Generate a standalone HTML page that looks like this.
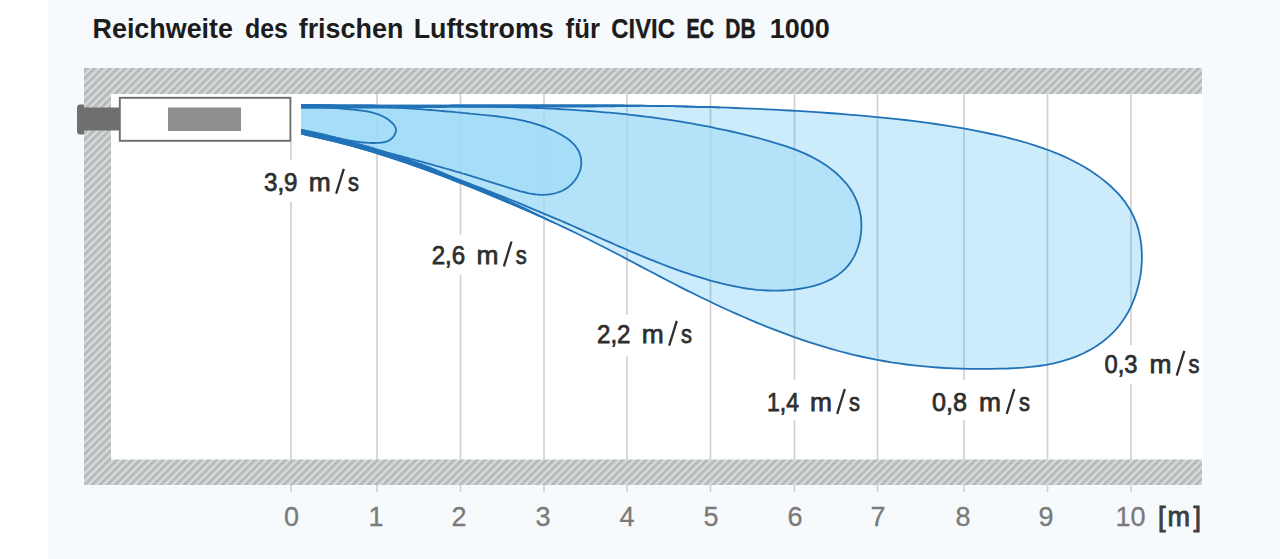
<!DOCTYPE html>
<html><head><meta charset="utf-8">
<style>
html,body{margin:0;padding:0;background:#fff;}
body{width:1280px;height:559px;overflow:hidden;font-family:"Liberation Sans",sans-serif;}
svg{display:block;}
text{font-family:"Liberation Sans",sans-serif;}
</style></head><body>
<svg width="1280" height="559" viewBox="0 0 1280 559">
<defs>
<pattern id="hatch" width="5.42" height="5.42" patternUnits="userSpaceOnUse" patternTransform="rotate(-45)">
<rect width="5.42" height="5.42" fill="#d8dbdb"/>
<rect width="5.42" height="3" fill="#b7baba"/>
</pattern>
</defs>
<rect x="0" y="0" width="1280" height="559" fill="#ffffff"/>
<rect x="48" y="0" width="1232" height="559" fill="#f6fafd"/>
<rect x="100" y="80" width="1103" height="390" fill="#ffffff"/>
<path d="M291 141V492M377 94V492M460.5 94V492M544 94V492M627 94V492M710.5 94V492M794.5 94V492M877.5 94V492M964 94V492M1047.5 94V492M1131 94V492" stroke="#d0d0d0" stroke-width="1.6" fill="none"/>
<g stroke="none">
<path fill="rgb(0,160,235)" fill-opacity="0.2" d="M301.0 105.0L308.8 104.9L316.5 105.0L324.2 105.1L332.0 105.2L339.7 105.3L347.4 105.4L355.2 105.4L362.9 105.5L370.6 105.5L378.4 105.6L386.1 105.6L393.8 105.6L401.6 105.6L409.3 105.6L417.1 105.6L424.8 105.6L432.6 105.6L440.4 105.6L448.1 105.6L455.9 105.5L463.6 105.5L471.4 105.5L479.1 105.5L486.9 105.4L494.7 105.4L502.4 105.4L510.2 105.4L518.0 105.3L525.7 105.3L533.5 105.3L541.3 105.3L549.0 105.3L556.8 105.3L564.6 105.3L572.3 105.3L580.1 105.3L587.9 105.3L595.6 105.4L603.4 105.4L611.2 105.4L618.9 105.5L626.7 105.6L634.5 105.6L642.2 105.7L650.0 105.8L657.8 106.0L665.5 106.1L673.3 106.2L681.0 106.4L688.8 106.6L696.5 106.8L704.3 107.0L712.0 107.2L719.8 107.4L727.5 107.7L735.3 108.0L743.0 108.3L750.8 108.6L758.5 108.9L766.2 109.3L774.0 109.6L781.7 110.1L789.4 110.5L797.2 110.9L804.9 111.4L812.6 111.9L820.3 112.4L828.0 113.0L835.8 113.5L843.5 114.1L851.2 114.8L858.9 115.4L866.6 116.1L874.3 116.8L882.0 117.6L889.6 118.4L897.3 119.2L905.0 120.0L912.7 120.9L920.4 121.9L928.0 122.9L935.7 124.0L943.3 125.1L951.0 126.3L958.7 127.6L966.3 128.9L973.9 130.3L981.6 131.9L989.2 133.5L996.8 135.2L1004.5 136.9L1012.1 138.8L1019.7 140.9L1027.2 143.0L1034.7 145.3L1042.1 147.8L1049.5 150.5L1056.7 153.3L1063.8 156.4L1070.8 159.7L1077.7 163.2L1084.4 167.0L1090.9 171.1L1097.3 175.4L1103.5 180.1L1109.4 185.0L1115.0 190.3L1120.2 195.9L1125.0 201.9L1129.2 208.2L1132.8 214.8L1135.9 221.8L1138.3 229.1L1140.0 236.7L1141.2 244.4L1141.8 252.2L1141.9 260.1L1141.4 268.0L1140.4 275.9L1138.8 283.7L1136.8 291.3L1134.3 298.7L1131.3 305.9L1127.8 312.8L1123.8 319.3L1119.3 325.5L1114.3 331.3L1108.8 336.6L1102.9 341.5L1096.6 346.0L1090.0 349.9L1083.1 353.5L1076.0 356.6L1068.8 359.2L1061.4 361.4L1053.9 363.3L1046.3 364.8L1038.7 366.0L1030.9 366.9L1023.1 367.6L1015.3 368.1L1007.5 368.5L999.6 368.7L991.8 368.9L984.0 368.9L976.2 368.9L968.4 368.8L960.6 368.6L952.8 368.3L945.1 368.0L937.3 367.5L929.6 366.9L921.9 366.2L914.2 365.4L906.6 364.5L898.9 363.4L891.3 362.3L883.7 361.0L876.1 359.7L868.6 358.1L861.0 356.5L853.5 354.8L846.0 352.9L838.6 351.0L831.1 348.9L823.7 346.7L816.3 344.4L808.9 342.1L801.6 339.6L794.3 337.1L787.0 334.4L779.7 331.7L772.4 328.9L765.2 326.1L758.0 323.1L750.8 320.1L743.7 317.0L736.5 313.9L729.4 310.7L722.3 307.5L715.3 304.2L708.3 300.8L701.3 297.5L694.3 294.0L687.3 290.6L680.4 287.1L673.5 283.5L666.6 280.0L659.7 276.4L652.9 272.8L646.1 269.2L639.2 265.6L632.4 262.0L625.6 258.4L618.8 254.8L611.9 251.3L605.1 247.7L598.2 244.2L591.3 240.7L584.4 237.2L577.5 233.8L570.5 230.4L563.5 227.1L556.4 223.8L549.4 220.6L542.3 217.3L535.2 214.2L528.1 211.0L521.0 207.9L513.8 204.8L506.6 201.8L499.5 198.8L492.3 195.8L485.1 192.8L477.9 189.9L470.7 187.0L463.5 184.1L456.3 181.3L449.1 178.5L441.9 175.7L434.6 173.0L427.4 170.3L420.1 167.7L412.8 165.1L405.5 162.5L398.2 160.1L390.8 157.6L383.5 155.3L376.1 153.0L368.7 150.7L361.3 148.6L353.8 146.5L346.3 144.4L338.8 142.5L331.3 140.6L323.7 138.8L316.1 137.0L308.5 135.4L301.0 133.5Z"/>
<path fill="rgb(170,223,248)" fill-opacity="0.7" d="M301.0 106.0L306.1 106.1L311.3 106.1L316.4 106.2L321.5 106.2L326.6 106.2L331.8 106.2L336.9 106.2L342.0 106.2L347.2 106.2L352.3 106.2L357.4 106.2L362.6 106.2L367.7 106.2L372.9 106.2L378.0 106.2L383.2 106.2L388.3 106.1L393.5 106.1L398.6 106.1L403.8 106.1L408.9 106.1L414.1 106.1L419.2 106.1L424.4 106.1L429.6 106.1L434.7 106.1L439.9 106.1L445.0 106.1L450.2 106.2L455.3 106.2L460.5 106.2L465.7 106.3L470.8 106.3L476.0 106.4L481.1 106.5L486.3 106.6L491.5 106.7L496.6 106.8L501.8 106.9L506.9 107.0L512.1 107.1L517.2 107.3L522.4 107.5L527.5 107.6L532.7 107.8L537.8 108.0L543.0 108.2L548.1 108.5L553.3 108.7L558.4 109.0L563.6 109.3L568.7 109.6L573.8 109.9L579.0 110.3L584.1 110.6L589.2 111.0L594.3 111.4L599.5 111.8L604.6 112.3L609.7 112.7L614.8 113.2L619.9 113.7L625.1 114.2L630.2 114.8L635.3 115.4L640.4 116.0L645.5 116.6L650.6 117.2L655.7 117.9L660.7 118.6L665.8 119.4L670.9 120.1L676.0 120.9L681.0 121.7L686.1 122.6L691.2 123.4L696.2 124.3L701.3 125.3L706.3 126.2L711.4 127.2L716.4 128.3L721.5 129.3L726.5 130.4L731.5 131.5L736.5 132.7L741.6 133.9L746.6 135.1L751.6 136.4L756.6 137.7L761.6 139.0L766.5 140.4L771.5 141.8L776.5 143.3L781.4 144.8L786.4 146.4L791.2 148.1L796.1 149.9L800.8 151.9L805.6 153.9L810.2 156.1L814.8 158.5L819.2 161.0L823.6 163.7L827.9 166.6L832.0 169.7L836.0 173.0L839.8 176.6L843.4 180.3L846.8 184.2L849.9 188.3L852.6 192.6L855.0 197.2L857.1 201.9L858.7 206.7L860.0 211.8L860.9 216.9L861.3 222.1L861.4 227.3L861.1 232.5L860.4 237.7L859.3 242.8L857.8 247.7L856.0 252.5L853.8 257.1L851.2 261.4L848.3 265.4L845.0 269.1L841.3 272.4L837.4 275.4L833.1 278.1L828.6 280.4L823.9 282.5L819.0 284.3L813.9 285.8L808.8 287.1L803.5 288.2L798.3 289.0L793.0 289.7L787.7 290.2L782.5 290.5L777.3 290.7L772.1 290.7L766.9 290.5L761.7 290.2L756.6 289.8L751.5 289.2L746.4 288.5L741.4 287.7L736.3 286.7L731.3 285.7L726.3 284.6L721.3 283.4L716.4 282.1L711.4 280.8L706.5 279.4L701.6 277.9L696.7 276.4L691.8 274.8L687.0 273.2L682.1 271.6L677.3 269.8L672.5 268.1L667.7 266.3L662.9 264.5L658.1 262.6L653.3 260.7L648.5 258.8L643.8 256.9L639.0 254.9L634.3 252.9L629.5 250.9L624.8 248.8L620.1 246.8L615.3 244.7L610.6 242.7L605.9 240.6L601.2 238.5L596.5 236.4L591.7 234.3L587.0 232.2L582.3 230.1L577.6 228.1L572.9 226.0L568.1 223.9L563.4 221.9L558.7 219.8L553.9 217.8L549.2 215.8L544.4 213.8L539.7 211.8L534.9 209.8L530.2 207.8L525.4 205.8L520.7 203.9L515.9 201.9L511.1 200.0L506.4 198.1L501.6 196.1L496.8 194.3L492.0 192.4L487.2 190.5L482.4 188.6L477.6 186.8L472.8 185.0L468.0 183.2L463.2 181.4L458.4 179.6L453.6 177.8L448.7 176.0L443.9 174.3L439.0 172.6L434.2 170.9L429.3 169.2L424.5 167.5L419.6 165.8L414.8 164.2L409.9 162.6L405.0 161.0L400.1 159.4L395.2 157.8L390.3 156.2L385.4 154.7L380.5 153.2L375.6 151.7L370.7 150.2L365.7 148.7L360.8 147.3L355.8 145.9L350.9 144.5L345.9 143.1L341.0 141.7L336.0 140.4L331.0 139.1L326.0 137.8L321.0 136.5L316.0 135.2L311.0 134.0L306.0 132.8L301.0 131.5Z"/>
<path fill="rgb(159,220,248)" fill-opacity="0.7" d="M301.0 106.8L303.5 106.7L306.1 106.6L308.6 106.5L311.1 106.4L313.7 106.3L316.2 106.3L318.7 106.2L321.3 106.2L323.8 106.1L326.3 106.1L328.9 106.0L331.4 106.0L333.9 106.0L336.5 106.0L339.0 106.0L341.5 106.0L344.1 106.0L346.6 106.0L349.2 106.0L351.7 106.1L354.2 106.1L356.8 106.2L359.3 106.2L361.8 106.3L364.4 106.3L366.9 106.4L369.4 106.5L372.0 106.6L374.5 106.7L377.0 106.8L379.6 106.9L382.1 107.0L384.6 107.1L387.2 107.2L389.7 107.3L392.2 107.5L394.8 107.6L397.3 107.8L399.8 107.9L402.4 108.1L404.9 108.2L407.4 108.4L410.0 108.5L412.5 108.7L415.0 108.9L417.6 109.1L420.1 109.2L422.6 109.4L425.1 109.6L427.7 109.8L430.2 110.0L432.7 110.2L435.3 110.4L437.8 110.6L440.3 110.8L442.8 111.0L445.4 111.3L447.9 111.5L450.4 111.7L452.9 111.9L455.5 112.2L458.0 112.4L460.5 112.6L463.0 112.9L465.5 113.1L468.1 113.3L470.6 113.6L473.1 113.8L475.6 114.1L478.1 114.3L480.7 114.6L483.2 114.8L485.7 115.1L488.2 115.3L490.7 115.6L493.2 115.9L495.7 116.2L498.2 116.5L500.7 116.8L503.2 117.1L505.7 117.5L508.2 117.9L510.7 118.3L513.2 118.7L515.7 119.1L518.2 119.6L520.7 120.1L523.1 120.6L525.6 121.2L528.0 121.8L530.5 122.4L532.9 123.1L535.4 123.8L537.8 124.6L540.3 125.4L542.7 126.3L545.1 127.2L547.5 128.1L549.9 129.1L552.3 130.2L554.7 131.3L557.0 132.5L559.4 133.7L561.7 135.0L564.0 136.4L566.2 137.8L568.3 139.3L570.3 140.9L572.1 142.6L573.9 144.4L575.5 146.2L576.9 148.2L578.2 150.3L579.2 152.4L580.1 154.7L580.7 157.0L581.1 159.3L581.3 161.7L581.3 164.1L581.0 166.5L580.5 168.9L579.8 171.3L578.8 173.6L577.7 175.9L576.5 178.1L575.0 180.2L573.4 182.2L571.6 184.1L569.7 185.9L567.7 187.5L565.6 188.9L563.3 190.2L561.0 191.3L558.6 192.2L556.1 193.0L553.6 193.7L551.1 194.2L548.5 194.5L545.9 194.7L543.3 194.8L540.7 194.8L538.2 194.6L535.6 194.4L533.1 194.0L530.5 193.6L528.0 193.1L525.5 192.5L523.1 191.9L520.6 191.3L518.2 190.6L515.7 189.9L513.3 189.2L510.9 188.4L508.5 187.7L506.1 186.9L503.7 186.2L501.2 185.4L498.8 184.6L496.4 183.8L494.0 183.1L491.6 182.3L489.2 181.6L486.8 180.8L484.4 180.1L482.0 179.3L479.6 178.6L477.2 177.8L474.7 177.1L472.3 176.4L469.9 175.6L467.5 174.9L465.1 174.2L462.6 173.5L460.2 172.7L457.8 172.0L455.3 171.3L452.9 170.6L450.5 169.9L448.0 169.2L445.6 168.5L443.2 167.8L440.7 167.1L438.3 166.4L435.9 165.8L433.4 165.1L431.0 164.4L428.5 163.7L426.1 163.0L423.6 162.4L421.2 161.7L418.8 161.0L416.3 160.4L413.9 159.7L411.4 159.0L409.0 158.4L406.5 157.7L404.1 157.1L401.6 156.4L399.2 155.7L396.7 155.1L394.2 154.4L391.8 153.8L389.3 153.1L386.9 152.5L384.4 151.9L382.0 151.2L379.5 150.6L377.1 149.9L374.6 149.3L372.2 148.6L369.7 148.0L367.2 147.4L364.8 146.7L362.3 146.1L359.9 145.5L357.4 144.8L355.0 144.2L352.5 143.6L350.1 142.9L347.6 142.3L345.1 141.7L342.7 141.0L340.2 140.4L337.8 139.8L335.3 139.1L332.9 138.5L330.4 137.9L328.0 137.2L325.5 136.6L323.1 136.0L320.6 135.3L318.2 134.7L315.7 134.0L313.3 133.4L310.8 132.8L308.4 132.1L305.9 131.5L303.5 130.9L301.0 130.3Z"/>
</g>
<g stroke="#2272b8" stroke-width="1.8" fill="none" stroke-linejoin="round" stroke-linecap="butt">
<path d="M301.0 105.0L308.8 104.9L316.5 105.0L324.2 105.1L332.0 105.2L339.7 105.3L347.4 105.4L355.2 105.4L362.9 105.5L370.6 105.5L378.4 105.6L386.1 105.6L393.8 105.6L401.6 105.6L409.3 105.6L417.1 105.6L424.8 105.6L432.6 105.6L440.4 105.6L448.1 105.6L455.9 105.5L463.6 105.5L471.4 105.5L479.1 105.5L486.9 105.4L494.7 105.4L502.4 105.4L510.2 105.4L518.0 105.3L525.7 105.3L533.5 105.3L541.3 105.3L549.0 105.3L556.8 105.3L564.6 105.3L572.3 105.3L580.1 105.3L587.9 105.3L595.6 105.4L603.4 105.4L611.2 105.4L618.9 105.5L626.7 105.6L634.5 105.6L642.2 105.7L650.0 105.8L657.8 106.0L665.5 106.1L673.3 106.2L681.0 106.4L688.8 106.6L696.5 106.8L704.3 107.0L712.0 107.2L719.8 107.4L727.5 107.7L735.3 108.0L743.0 108.3L750.8 108.6L758.5 108.9L766.2 109.3L774.0 109.6L781.7 110.1L789.4 110.5L797.2 110.9L804.9 111.4L812.6 111.9L820.3 112.4L828.0 113.0L835.8 113.5L843.5 114.1L851.2 114.8L858.9 115.4L866.6 116.1L874.3 116.8L882.0 117.6L889.6 118.4L897.3 119.2L905.0 120.0L912.7 120.9L920.4 121.9L928.0 122.9L935.7 124.0L943.3 125.1L951.0 126.3L958.7 127.6L966.3 128.9L973.9 130.3L981.6 131.9L989.2 133.5L996.8 135.2L1004.5 136.9L1012.1 138.8L1019.7 140.9L1027.2 143.0L1034.7 145.3L1042.1 147.8L1049.5 150.5L1056.7 153.3L1063.8 156.4L1070.8 159.7L1077.7 163.2L1084.4 167.0L1090.9 171.1L1097.3 175.4L1103.5 180.1L1109.4 185.0L1115.0 190.3L1120.2 195.9L1125.0 201.9L1129.2 208.2L1132.8 214.8L1135.9 221.8L1138.3 229.1L1140.0 236.7L1141.2 244.4L1141.8 252.2L1141.9 260.1L1141.4 268.0L1140.4 275.9L1138.8 283.7L1136.8 291.3L1134.3 298.7L1131.3 305.9L1127.8 312.8L1123.8 319.3L1119.3 325.5L1114.3 331.3L1108.8 336.6L1102.9 341.5L1096.6 346.0L1090.0 349.9L1083.1 353.5L1076.0 356.6L1068.8 359.2L1061.4 361.4L1053.9 363.3L1046.3 364.8L1038.7 366.0L1030.9 366.9L1023.1 367.6L1015.3 368.1L1007.5 368.5L999.6 368.7L991.8 368.9L984.0 368.9L976.2 368.9L968.4 368.8L960.6 368.6L952.8 368.3L945.1 368.0L937.3 367.5L929.6 366.9L921.9 366.2L914.2 365.4L906.6 364.5L898.9 363.4L891.3 362.3L883.7 361.0L876.1 359.7L868.6 358.1L861.0 356.5L853.5 354.8L846.0 352.9L838.6 351.0L831.1 348.9L823.7 346.7L816.3 344.4L808.9 342.1L801.6 339.6L794.3 337.1L787.0 334.4L779.7 331.7L772.4 328.9L765.2 326.1L758.0 323.1L750.8 320.1L743.7 317.0L736.5 313.9L729.4 310.7L722.3 307.5L715.3 304.2L708.3 300.8L701.3 297.5L694.3 294.0L687.3 290.6L680.4 287.1L673.5 283.5L666.6 280.0L659.7 276.4L652.9 272.8L646.1 269.2L639.2 265.6L632.4 262.0L625.6 258.4L618.8 254.8L611.9 251.3L605.1 247.7L598.2 244.2L591.3 240.7L584.4 237.2L577.5 233.8L570.5 230.4L563.5 227.1L556.4 223.8L549.4 220.6L542.3 217.3L535.2 214.2L528.1 211.0L521.0 207.9L513.8 204.8L506.6 201.8L499.5 198.8L492.3 195.8L485.1 192.8L477.9 189.9L470.7 187.0L463.5 184.1L456.3 181.3L449.1 178.5L441.9 175.7L434.6 173.0L427.4 170.3L420.1 167.7L412.8 165.1L405.5 162.5L398.2 160.1L390.8 157.6L383.5 155.3L376.1 153.0L368.7 150.7L361.3 148.6L353.8 146.5L346.3 144.4L338.8 142.5L331.3 140.6L323.7 138.8L316.1 137.0L308.5 135.4L301.0 133.5"/>
<path d="M301.0 106.0L306.1 106.1L311.3 106.1L316.4 106.2L321.5 106.2L326.6 106.2L331.8 106.2L336.9 106.2L342.0 106.2L347.2 106.2L352.3 106.2L357.4 106.2L362.6 106.2L367.7 106.2L372.9 106.2L378.0 106.2L383.2 106.2L388.3 106.1L393.5 106.1L398.6 106.1L403.8 106.1L408.9 106.1L414.1 106.1L419.2 106.1L424.4 106.1L429.6 106.1L434.7 106.1L439.9 106.1L445.0 106.1L450.2 106.2L455.3 106.2L460.5 106.2L465.7 106.3L470.8 106.3L476.0 106.4L481.1 106.5L486.3 106.6L491.5 106.7L496.6 106.8L501.8 106.9L506.9 107.0L512.1 107.1L517.2 107.3L522.4 107.5L527.5 107.6L532.7 107.8L537.8 108.0L543.0 108.2L548.1 108.5L553.3 108.7L558.4 109.0L563.6 109.3L568.7 109.6L573.8 109.9L579.0 110.3L584.1 110.6L589.2 111.0L594.3 111.4L599.5 111.8L604.6 112.3L609.7 112.7L614.8 113.2L619.9 113.7L625.1 114.2L630.2 114.8L635.3 115.4L640.4 116.0L645.5 116.6L650.6 117.2L655.7 117.9L660.7 118.6L665.8 119.4L670.9 120.1L676.0 120.9L681.0 121.7L686.1 122.6L691.2 123.4L696.2 124.3L701.3 125.3L706.3 126.2L711.4 127.2L716.4 128.3L721.5 129.3L726.5 130.4L731.5 131.5L736.5 132.7L741.6 133.9L746.6 135.1L751.6 136.4L756.6 137.7L761.6 139.0L766.5 140.4L771.5 141.8L776.5 143.3L781.4 144.8L786.4 146.4L791.2 148.1L796.1 149.9L800.8 151.9L805.6 153.9L810.2 156.1L814.8 158.5L819.2 161.0L823.6 163.7L827.9 166.6L832.0 169.7L836.0 173.0L839.8 176.6L843.4 180.3L846.8 184.2L849.9 188.3L852.6 192.6L855.0 197.2L857.1 201.9L858.7 206.7L860.0 211.8L860.9 216.9L861.3 222.1L861.4 227.3L861.1 232.5L860.4 237.7L859.3 242.8L857.8 247.7L856.0 252.5L853.8 257.1L851.2 261.4L848.3 265.4L845.0 269.1L841.3 272.4L837.4 275.4L833.1 278.1L828.6 280.4L823.9 282.5L819.0 284.3L813.9 285.8L808.8 287.1L803.5 288.2L798.3 289.0L793.0 289.7L787.7 290.2L782.5 290.5L777.3 290.7L772.1 290.7L766.9 290.5L761.7 290.2L756.6 289.8L751.5 289.2L746.4 288.5L741.4 287.7L736.3 286.7L731.3 285.7L726.3 284.6L721.3 283.4L716.4 282.1L711.4 280.8L706.5 279.4L701.6 277.9L696.7 276.4L691.8 274.8L687.0 273.2L682.1 271.6L677.3 269.8L672.5 268.1L667.7 266.3L662.9 264.5L658.1 262.6L653.3 260.7L648.5 258.8L643.8 256.9L639.0 254.9L634.3 252.9L629.5 250.9L624.8 248.8L620.1 246.8L615.3 244.7L610.6 242.7L605.9 240.6L601.2 238.5L596.5 236.4L591.7 234.3L587.0 232.2L582.3 230.1L577.6 228.1L572.9 226.0L568.1 223.9L563.4 221.9L558.7 219.8L553.9 217.8L549.2 215.8L544.4 213.8L539.7 211.8L534.9 209.8L530.2 207.8L525.4 205.8L520.7 203.9L515.9 201.9L511.1 200.0L506.4 198.1L501.6 196.1L496.8 194.3L492.0 192.4L487.2 190.5L482.4 188.6L477.6 186.8L472.8 185.0L468.0 183.2L463.2 181.4L458.4 179.6L453.6 177.8L448.7 176.0L443.9 174.3L439.0 172.6L434.2 170.9L429.3 169.2L424.5 167.5L419.6 165.8L414.8 164.2L409.9 162.6L405.0 161.0L400.1 159.4L395.2 157.8L390.3 156.2L385.4 154.7L380.5 153.2L375.6 151.7L370.7 150.2L365.7 148.7L360.8 147.3L355.8 145.9L350.9 144.5L345.9 143.1L341.0 141.7L336.0 140.4L331.0 139.1L326.0 137.8L321.0 136.5L316.0 135.2L311.0 134.0L306.0 132.8L301.0 131.5"/>
<path d="M301.0 106.8L303.5 106.7L306.1 106.6L308.6 106.5L311.1 106.4L313.7 106.3L316.2 106.3L318.7 106.2L321.3 106.2L323.8 106.1L326.3 106.1L328.9 106.0L331.4 106.0L333.9 106.0L336.5 106.0L339.0 106.0L341.5 106.0L344.1 106.0L346.6 106.0L349.2 106.0L351.7 106.1L354.2 106.1L356.8 106.2L359.3 106.2L361.8 106.3L364.4 106.3L366.9 106.4L369.4 106.5L372.0 106.6L374.5 106.7L377.0 106.8L379.6 106.9L382.1 107.0L384.6 107.1L387.2 107.2L389.7 107.3L392.2 107.5L394.8 107.6L397.3 107.8L399.8 107.9L402.4 108.1L404.9 108.2L407.4 108.4L410.0 108.5L412.5 108.7L415.0 108.9L417.6 109.1L420.1 109.2L422.6 109.4L425.1 109.6L427.7 109.8L430.2 110.0L432.7 110.2L435.3 110.4L437.8 110.6L440.3 110.8L442.8 111.0L445.4 111.3L447.9 111.5L450.4 111.7L452.9 111.9L455.5 112.2L458.0 112.4L460.5 112.6L463.0 112.9L465.5 113.1L468.1 113.3L470.6 113.6L473.1 113.8L475.6 114.1L478.1 114.3L480.7 114.6L483.2 114.8L485.7 115.1L488.2 115.3L490.7 115.6L493.2 115.9L495.7 116.2L498.2 116.5L500.7 116.8L503.2 117.1L505.7 117.5L508.2 117.9L510.7 118.3L513.2 118.7L515.7 119.1L518.2 119.6L520.7 120.1L523.1 120.6L525.6 121.2L528.0 121.8L530.5 122.4L532.9 123.1L535.4 123.8L537.8 124.6L540.3 125.4L542.7 126.3L545.1 127.2L547.5 128.1L549.9 129.1L552.3 130.2L554.7 131.3L557.0 132.5L559.4 133.7L561.7 135.0L564.0 136.4L566.2 137.8L568.3 139.3L570.3 140.9L572.1 142.6L573.9 144.4L575.5 146.2L576.9 148.2L578.2 150.3L579.2 152.4L580.1 154.7L580.7 157.0L581.1 159.3L581.3 161.7L581.3 164.1L581.0 166.5L580.5 168.9L579.8 171.3L578.8 173.6L577.7 175.9L576.5 178.1L575.0 180.2L573.4 182.2L571.6 184.1L569.7 185.9L567.7 187.5L565.6 188.9L563.3 190.2L561.0 191.3L558.6 192.2L556.1 193.0L553.6 193.7L551.1 194.2L548.5 194.5L545.9 194.7L543.3 194.8L540.7 194.8L538.2 194.6L535.6 194.4L533.1 194.0L530.5 193.6L528.0 193.1L525.5 192.5L523.1 191.9L520.6 191.3L518.2 190.6L515.7 189.9L513.3 189.2L510.9 188.4L508.5 187.7L506.1 186.9L503.7 186.2L501.2 185.4L498.8 184.6L496.4 183.8L494.0 183.1L491.6 182.3L489.2 181.6L486.8 180.8L484.4 180.1L482.0 179.3L479.6 178.6L477.2 177.8L474.7 177.1L472.3 176.4L469.9 175.6L467.5 174.9L465.1 174.2L462.6 173.5L460.2 172.7L457.8 172.0L455.3 171.3L452.9 170.6L450.5 169.9L448.0 169.2L445.6 168.5L443.2 167.8L440.7 167.1L438.3 166.4L435.9 165.8L433.4 165.1L431.0 164.4L428.5 163.7L426.1 163.0L423.6 162.4L421.2 161.7L418.8 161.0L416.3 160.4L413.9 159.7L411.4 159.0L409.0 158.4L406.5 157.7L404.1 157.1L401.6 156.4L399.2 155.7L396.7 155.1L394.2 154.4L391.8 153.8L389.3 153.1L386.9 152.5L384.4 151.9L382.0 151.2L379.5 150.6L377.1 149.9L374.6 149.3L372.2 148.6L369.7 148.0L367.2 147.4L364.8 146.7L362.3 146.1L359.9 145.5L357.4 144.8L355.0 144.2L352.5 143.6L350.1 142.9L347.6 142.3L345.1 141.7L342.7 141.0L340.2 140.4L337.8 139.8L335.3 139.1L332.9 138.5L330.4 137.9L328.0 137.2L325.5 136.6L323.1 136.0L320.6 135.3L318.2 134.7L315.7 134.0L313.3 133.4L310.8 132.8L308.4 132.1L305.9 131.5L303.5 130.9L301.0 130.3"/>
<path d="M301.0 107.3L301.9 107.3L302.7 107.2L303.6 107.2L304.5 107.1L305.4 107.1L306.2 107.1L307.1 107.0L308.0 107.0L308.8 107.0L309.7 107.0L310.6 106.9L311.4 106.9L312.3 106.9L313.1 106.9L314.0 106.9L314.8 106.9L315.7 107.0L316.5 107.0L317.4 107.0L318.2 107.0L319.1 107.0L319.9 107.1L320.8 107.1L321.6 107.1L322.5 107.2L323.3 107.2L324.2 107.3L325.0 107.3L325.9 107.3L326.7 107.4L327.5 107.5L328.4 107.5L329.2 107.6L330.1 107.6L330.9 107.7L331.8 107.8L332.6 107.8L333.4 107.9L334.3 108.0L335.1 108.0L336.0 108.1L336.8 108.2L337.7 108.2L338.5 108.3L339.4 108.4L340.2 108.5L341.0 108.5L341.9 108.6L342.7 108.7L343.6 108.8L344.4 108.9L345.3 108.9L346.1 109.0L347.0 109.1L347.9 109.2L348.7 109.3L349.6 109.3L350.4 109.4L351.3 109.5L352.2 109.6L353.0 109.7L353.9 109.7L354.8 109.8L355.6 109.9L356.5 110.0L357.3 110.1L358.2 110.2L359.1 110.3L359.9 110.4L360.8 110.5L361.7 110.6L362.5 110.7L363.4 110.8L364.2 110.9L365.1 111.1L365.9 111.2L366.8 111.4L367.6 111.5L368.5 111.7L369.3 111.9L370.2 112.0L371.0 112.2L371.8 112.4L372.7 112.6L373.5 112.8L374.3 113.1L375.1 113.3L375.9 113.6L376.7 113.8L377.5 114.1L378.3 114.4L379.1 114.7L379.9 115.0L380.7 115.4L381.5 115.7L382.2 116.1L383.0 116.4L383.7 116.8L384.5 117.3L385.2 117.7L386.0 118.1L386.7 118.6L387.4 119.1L388.1 119.6L388.8 120.1L389.5 120.6L390.2 121.2L390.8 121.7L391.5 122.3L392.2 123.0L392.8 123.6L393.4 124.2L393.9 124.9L394.4 125.6L394.9 126.3L395.2 127.1L395.6 127.8L395.8 128.6L395.9 129.4L396.0 130.2L395.9 131.0L395.8 131.8L395.6 132.7L395.3 133.5L394.9 134.3L394.4 135.1L393.9 135.9L393.4 136.6L392.8 137.4L392.2 138.0L391.5 138.7L390.8 139.2L390.1 139.8L389.3 140.2L388.6 140.7L387.8 141.0L387.0 141.3L386.2 141.6L385.4 141.9L384.5 142.1L383.7 142.3L382.8 142.4L382.0 142.5L381.1 142.6L380.3 142.7L379.4 142.8L378.5 142.8L377.6 142.9L376.8 142.9L375.9 142.9L375.0 143.0L374.2 143.0L373.3 143.0L372.4 143.0L371.6 143.0L370.7 142.9L369.9 142.9L369.0 142.9L368.1 142.8L367.3 142.8L366.4 142.7L365.6 142.7L364.7 142.6L363.9 142.5L363.0 142.5L362.2 142.4L361.3 142.3L360.5 142.2L359.6 142.1L358.8 142.0L357.9 141.9L357.1 141.7L356.2 141.6L355.4 141.5L354.5 141.3L353.7 141.2L352.9 141.1L352.0 140.9L351.2 140.8L350.3 140.6L349.5 140.5L348.7 140.3L347.8 140.1L347.0 140.0L346.1 139.8L345.3 139.6L344.5 139.5L343.6 139.3L342.8 139.1L342.0 138.9L341.1 138.7L340.3 138.5L339.5 138.3L338.6 138.1L337.8 138.0L337.0 137.8L336.1 137.6L335.3 137.4L334.5 137.2L333.6 137.0L332.8 136.8L332.0 136.6L331.1 136.4L330.3 136.2L329.5 136.0L328.6 135.8L327.8 135.6L327.0 135.3L326.1 135.1L325.3 134.9L324.5 134.7L323.6 134.5L322.8 134.3L322.0 134.1L321.1 134.0L320.3 133.8L319.5 133.6L318.6 133.4L317.8 133.2L317.0 133.0L316.1 132.8L315.3 132.6L314.5 132.4L313.6 132.3L312.8 132.1L311.9 131.9L311.1 131.7L310.3 131.6L309.4 131.4L308.6 131.3L307.7 131.1L306.9 131.0L306.1 130.8L305.2 130.7L304.4 130.5L303.5 130.4L302.7 130.3L301.8 130.1L301.0 130.0"/>
</g>
<path d="M301.0 104.1L302.0 104.1L303.0 104.1L304.0 104.1L305.0 104.1L306.0 104.0L307.0 104.0L308.0 104.0L309.0 104.0L310.0 104.0L311.0 104.0L312.0 104.1L313.0 104.1L314.0 104.1L315.0 104.1L316.0 104.1L317.0 104.1L318.0 104.2L319.0 104.2L320.0 104.2L321.0 104.2L322.0 104.2L323.0 104.2L324.0 104.2L325.0 104.2L326.0 104.3L327.0 104.3L328.0 104.3L329.0 104.3L330.0 104.3L331.0 104.3L332.0 104.3L333.0 104.3L334.0 104.4L335.0 104.4L336.0 104.4L337.0 104.4L338.0 104.4L339.0 104.4L340.0 104.4L341.0 104.4L342.0 104.4L343.0 104.4L344.0 104.4L345.0 104.5L346.0 104.5L347.0 104.5L348.0 104.5L349.0 104.5L350.0 104.5L351.0 104.5L352.0 104.5L353.0 104.5L354.0 104.5L355.0 104.5L356.0 104.5L357.0 104.6L358.0 104.6L359.0 104.6L360.0 104.6L361.0 104.6L362.0 104.6L363.0 104.6L364.0 104.6L365.0 104.6L366.0 104.6L367.0 104.6L368.0 104.6L369.0 104.6L370.0 104.6L371.0 104.6L372.0 104.6L373.0 104.6L374.0 104.6L375.0 104.6L376.0 104.7L377.0 104.7L378.0 104.7L379.0 104.7L380.0 104.7L381.0 104.7L382.0 104.7L383.0 104.7L384.0 104.7L385.0 104.7L386.0 104.7L387.0 104.7L388.0 104.7L389.0 104.7L390.0 104.7L391.0 104.7L392.0 104.7L393.0 104.7L394.0 104.7L395.0 104.7L396.0 104.7L397.0 104.7L398.0 104.7L399.0 104.7L400.0 104.7L401.0 104.7L402.0 104.7L403.0 104.7L404.0 104.7L405.0 104.7L406.0 104.7L407.0 104.7L408.0 104.7L409.0 104.7L410.0 104.7L411.0 104.7L412.0 104.7L413.0 104.7L414.0 104.7L415.0 104.7L416.0 104.7L417.0 104.7L418.0 104.7L419.0 104.7L420.0 104.7L421.0 104.7L422.0 104.7L423.0 104.7L424.0 104.7L425.0 104.7L426.0 104.7L427.0 104.7L428.0 104.7L429.0 104.7L430.0 104.7L431.0 104.7L432.0 104.7L433.0 104.7L434.0 104.7L435.0 104.7L436.0 104.7L437.0 104.7L438.0 104.7L439.0 104.7L440.0 104.7L441.0 104.7L442.0 104.7L443.0 104.7L444.0 104.7L445.0 104.7L446.0 104.7L447.0 104.7L448.0 104.7L449.0 104.7L450.0 104.7L451.0 104.6L452.0 104.6L453.0 104.6L454.0 104.6L455.0 104.6L456.0 104.6L457.0 104.6L458.0 104.6L459.0 104.6L460.0 104.6L461.0 104.6L462.0 104.6L463.0 104.6L464.0 104.6L465.0 104.6L466.0 104.6L467.0 104.6L468.0 104.6L469.0 104.6L470.0 104.6L471.0 104.6L472.0 104.6L473.0 104.6L474.0 104.6L475.0 104.6L476.0 104.6L477.0 104.6L478.0 104.6L479.0 104.6L480.0 104.6L481.0 104.6L482.0 104.5L483.0 104.5L484.0 104.5L485.0 104.5L486.0 104.5L487.0 104.5L488.0 104.5L489.0 104.5L490.0 104.5L491.0 104.5L492.0 104.5L493.0 104.5L494.0 104.5L495.0 104.5L496.0 104.5L497.0 104.5L498.0 104.5L499.0 104.5L500.0 104.5L501.0 104.5L502.0 104.5L503.0 104.5L504.0 104.5L505.0 104.5L506.0 104.5L507.0 104.5L508.0 104.5L509.0 104.5L510.0 104.5L511.0 104.5L512.0 104.4L513.0 104.4L514.0 104.4L515.0 104.4L516.0 104.4L517.0 104.4L518.0 104.4L519.0 104.4L520.0 104.4L521.0 104.4L522.0 104.4L523.0 104.4L524.0 104.4L525.0 104.4L526.0 104.4L527.0 104.4L528.0 104.4L529.0 104.4L530.0 104.4L531.0 104.4L532.0 104.4L533.0 104.4L534.0 104.4L535.0 104.4L536.0 104.4L537.0 104.4L538.0 104.4L539.0 104.4L540.0 104.4L541.0 104.4L542.0 104.4L543.0 104.4L544.0 104.4L545.0 104.4L546.0 104.4L547.0 104.4L548.0 104.4L549.0 104.4L550.0 104.4L551.0 104.4L552.0 104.4L553.0 104.4L554.0 104.4L555.0 104.4L556.0 104.4L557.0 104.4L558.0 104.4L559.0 104.4L560.0 104.4L561.0 104.4L562.0 104.4L563.0 104.4L564.0 104.4L565.0 104.4L566.0 104.4L567.0 104.4L568.0 104.4L569.0 104.4L570.0 104.4L571.0 104.4L572.0 104.4L573.0 104.4L574.0 104.4L575.0 104.4L576.0 104.4L577.0 104.4L578.0 104.4L579.0 104.4L580.0 104.4L581.0 104.4L582.0 104.4L583.0 104.4L584.0 104.4L585.0 104.4L586.0 104.4L587.0 104.4L588.0 104.4L589.0 104.4L590.0 104.4L591.0 104.4L592.0 104.4L593.0 104.4L594.0 104.4L595.0 104.4L596.0 104.5L597.0 104.5L598.0 104.5L599.0 104.5L600.0 104.5L601.0 104.5L602.0 104.5L603.0 104.5L604.0 104.5L605.0 104.5L606.0 104.5L607.0 104.5L608.0 104.5L609.0 104.5L610.0 104.5L611.0 104.5L612.0 104.5L613.0 104.6L614.0 104.6L615.0 104.6L616.0 104.6L617.0 104.6L618.0 104.6L619.0 104.6L620.0 104.6L621.0 104.6L622.0 104.6L623.0 104.6L624.0 104.6L625.0 104.7L626.0 104.7L627.0 104.7L628.0 104.7L629.0 104.7L630.0 104.7L631.0 104.7L632.0 104.7L633.0 104.7L634.0 104.7L635.0 104.8L636.0 104.8L637.0 104.8L638.0 104.8L639.0 104.8L640.0 104.8L641.0 104.8L642.0 104.8L643.0 104.8L644.0 104.9L645.0 104.9L646.0 104.9L647.0 104.9L648.0 104.9L649.0 104.9L650.0 104.9L651.0 105.0L652.0 105.0L653.0 105.0L654.0 105.0L655.0 105.0L656.0 105.0L657.0 105.0L658.0 105.1L659.0 105.1L660.0 105.1L661.0 105.1L662.0 105.1L663.0 105.1L664.0 105.2L665.0 105.2L666.0 105.2L667.0 105.2L668.0 105.2L669.0 105.3L670.0 105.3L671.0 105.3L672.0 105.3L673.0 105.3L674.0 105.3L675.0 105.4L676.0 105.4L677.0 105.4L678.0 105.4L679.0 105.5L680.0 105.5L681.0 105.5L682.0 105.5L683.0 105.5L684.0 105.6L685.0 105.6L686.0 105.6L687.0 105.6L688.0 105.6L689.0 105.7L690.0 105.7L691.0 105.7L692.0 105.7L693.0 105.8L694.0 105.8L695.0 105.8L696.0 105.8L697.0 105.9L698.0 105.9L699.0 105.9L700.0 105.9L701.0 106.0L702.0 106.0L703.0 106.0L704.0 106.1L705.0 106.1L706.0 106.1L707.0 106.1L708.0 106.2L709.0 106.2L710.0 106.2L711.0 106.3L712.0 106.3L713.0 106.3L714.0 106.3L715.0 106.4L716.0 106.4L717.0 106.4L718.0 106.5L719.0 106.5L720.0 106.5L720.0 108.3L719.0 108.3L718.0 108.3L717.0 108.2L716.0 108.2L715.0 108.2L714.0 108.1L713.0 108.1L712.0 108.1L711.0 108.1L710.0 108.0L709.0 108.0L708.0 108.0L707.0 107.9L706.0 107.9L705.0 107.9L704.0 107.9L703.0 107.8L702.0 107.8L701.0 107.8L700.0 107.7L699.0 107.7L698.0 107.7L697.0 107.7L696.0 107.6L695.0 107.6L694.0 107.6L693.0 107.6L692.0 107.5L691.0 107.5L690.0 107.5L689.0 107.5L688.0 107.4L687.0 107.4L686.0 107.4L685.0 107.4L684.0 107.4L683.0 107.3L682.0 107.3L681.0 107.3L680.0 107.3L679.0 107.3L678.0 107.2L677.0 107.2L676.0 107.2L675.0 107.2L674.0 107.1L673.0 107.1L672.0 107.1L671.0 107.1L670.0 107.1L669.0 107.1L668.0 107.0L667.0 107.0L666.0 107.0L665.0 107.0L664.0 107.0L663.0 106.9L662.0 106.9L661.0 106.9L660.0 106.9L659.0 106.9L658.0 106.9L657.0 106.8L656.0 106.8L655.0 106.8L654.0 106.8L653.0 106.8L652.0 106.8L651.0 106.8L650.0 106.7L649.0 106.7L648.0 106.7L647.0 106.7L646.0 106.7L645.0 106.7L644.0 106.7L643.0 106.6L642.0 106.6L641.0 106.6L640.0 106.9L639.0 106.9L638.0 106.9L637.0 106.9L636.0 106.9L635.0 107.0L634.0 107.0L633.0 107.0L632.0 107.0L631.0 107.0L630.0 107.0L629.0 107.0L628.0 107.0L627.0 107.0L626.0 107.0L625.0 107.1L624.0 107.1L623.0 107.1L622.0 107.1L621.0 107.1L620.0 107.1L619.0 107.1L618.0 107.1L617.0 107.1L616.0 107.1L615.0 107.2L614.0 107.2L613.0 107.2L612.0 107.2L611.0 107.2L610.0 107.2L609.0 107.2L608.0 107.2L607.0 107.2L606.0 107.2L605.0 107.2L604.0 107.3L603.0 107.3L602.0 107.3L601.0 107.3L600.0 107.3L599.0 107.3L598.0 107.3L597.0 107.3L596.0 107.3L595.0 107.4L594.0 107.4L593.0 107.4L592.0 107.4L591.0 107.4L590.0 107.4L589.0 107.4L588.0 107.4L587.0 107.4L586.0 107.4L585.0 107.4L584.0 107.4L583.0 107.4L582.0 107.4L581.0 107.4L580.0 107.4L579.0 107.4L578.0 107.4L577.0 107.4L576.0 107.4L575.0 107.4L574.0 107.5L573.0 107.5L572.0 107.5L571.0 107.5L570.0 107.5L569.0 107.5L568.0 107.5L567.0 107.5L566.0 107.5L565.0 107.5L564.0 107.5L563.0 107.5L562.0 107.5L561.0 107.5L560.0 107.5L559.0 107.5L558.0 107.5L557.0 107.5L556.0 107.5L555.0 107.5L554.0 107.5L553.0 107.5L552.0 107.5L551.0 107.5L550.0 107.5L549.0 107.5L548.0 107.5L547.0 107.5L546.0 107.5L545.0 107.5L544.0 107.5L543.0 107.5L542.0 107.6L541.0 107.6L540.0 107.6L539.0 107.6L538.0 107.6L537.0 107.6L536.0 107.6L535.0 107.6L534.0 107.6L533.0 107.6L532.0 107.6L531.0 107.6L530.0 107.6L529.0 107.6L528.0 107.6L527.0 107.6L526.0 107.6L525.0 107.6L524.0 107.6L523.0 107.6L522.0 107.6L521.0 107.6L520.0 107.6L519.0 107.6L518.0 107.6L517.0 107.6L516.0 107.6L515.0 107.6L514.0 107.6L513.0 107.6L512.0 107.6L511.0 107.6L510.0 107.7L509.0 107.7L508.0 107.7L507.0 107.7L506.0 107.7L505.0 107.7L504.0 107.7L503.0 107.7L502.0 107.7L501.0 107.7L500.0 107.7L499.0 107.7L498.0 107.7L497.0 107.7L496.0 107.7L495.0 107.7L494.0 107.7L493.0 107.7L492.0 107.7L491.0 107.7L490.0 107.7L489.0 107.7L488.0 107.7L487.0 107.7L486.0 107.7L485.0 107.7L484.0 107.7L483.0 107.7L482.0 107.7L481.0 107.7L480.0 107.7L479.0 107.7L478.0 107.8L477.0 107.8L476.0 107.8L475.0 107.8L474.0 107.8L473.0 107.8L472.0 107.8L471.0 107.8L470.0 107.8L469.0 107.8L468.0 107.8L467.0 107.8L466.0 107.8L465.0 107.8L464.0 107.8L463.0 107.8L462.0 107.8L461.0 107.8L460.0 107.8L459.0 107.8L458.0 107.8L457.0 107.8L456.0 107.8L455.0 107.8L454.0 107.8L453.0 107.8L452.0 107.8L451.0 107.8L450.0 107.8L449.0 107.8L448.0 107.8L447.0 107.8L446.0 107.9L445.0 107.9L444.0 107.9L443.0 107.9L442.0 107.9L441.0 107.9L440.0 107.9L439.0 107.9L438.0 107.9L437.0 107.9L436.0 107.9L435.0 107.9L434.0 107.9L433.0 107.9L432.0 107.9L431.0 107.9L430.0 107.9L429.0 107.9L428.0 107.9L427.0 108.0L426.0 108.0L425.0 108.0L424.0 108.0L423.0 108.1L422.0 108.1L421.0 108.1L420.0 108.1L419.0 108.2L418.0 108.2L417.0 108.2L416.0 108.2L415.0 108.2L414.0 108.3L413.0 108.3L412.0 108.3L411.0 108.3L410.0 108.4L409.0 108.4L408.0 108.4L407.0 108.4L406.0 108.5L405.0 108.5L404.0 108.5L403.0 108.5L402.0 108.6L401.0 108.6L400.0 108.6L399.0 108.6L398.0 108.6L397.0 108.6L396.0 108.6L395.0 108.6L394.0 108.6L393.0 108.6L392.0 108.6L391.0 108.6L390.0 108.6L389.0 108.6L388.0 108.6L387.0 108.6L386.0 108.6L385.0 108.6L384.0 108.6L383.0 108.6L382.0 108.6L381.0 108.6L380.0 108.6L379.0 108.6L378.0 108.6L377.0 108.6L376.0 108.6L375.0 108.6L374.0 108.6L373.0 108.6L372.0 108.6L371.0 108.6L370.0 108.6L369.0 108.6L368.0 108.6L367.0 108.6L366.0 108.6L365.0 108.6L364.0 108.6L363.0 108.6L362.0 108.6L361.0 108.6L360.0 108.6L359.0 108.6L358.0 108.6L357.0 108.6L356.0 108.6L355.0 108.6L354.0 108.6L353.0 108.6L352.0 108.6L351.0 108.6L350.0 108.7L349.0 108.7L348.0 108.7L347.0 108.7L346.0 108.7L345.0 108.7L344.0 108.7L343.0 108.7L342.0 108.7L341.0 108.7L340.0 108.7L339.0 108.7L338.0 108.7L337.0 108.7L336.0 108.7L335.0 108.7L334.0 108.7L333.0 108.7L332.0 108.7L331.0 108.7L330.0 108.7L329.0 108.7L328.0 108.7L327.0 108.7L326.0 108.7L325.0 108.7L324.0 108.7L323.0 108.7L322.0 108.7L321.0 108.7L320.0 108.7L319.0 108.7L318.0 108.7L317.0 108.7L316.0 108.7L315.0 108.7L314.0 108.7L313.0 108.7L312.0 108.7L311.0 108.7L310.0 108.7L309.0 108.7L308.0 108.7L307.0 108.7L306.0 108.7L305.0 108.7L304.0 108.7L303.0 108.7L302.0 108.7L301.0 108.7ZM301.0 128.8L302.0 129.1L303.0 129.3L304.0 129.6L305.0 129.8L306.0 130.1L307.0 130.3L308.0 130.6L309.0 130.8L310.0 131.0L311.0 131.2L312.0 131.4L313.0 131.7L314.0 131.9L315.0 132.1L316.0 132.3L317.0 132.5L318.0 132.8L319.0 133.0L320.0 133.2L321.0 133.4L322.0 133.7L323.0 133.9L324.0 134.1L325.0 134.4L326.0 134.6L327.0 134.8L328.0 135.1L329.0 135.3L330.0 135.6L331.0 135.8L332.0 136.0L333.0 136.3L334.0 136.5L335.0 136.8L336.0 137.1L337.0 137.3L338.0 137.6L339.0 137.8L340.0 138.1L341.0 138.3L342.0 138.6L343.0 138.8L344.0 139.1L345.0 139.4L346.0 139.6L347.0 139.9L348.0 140.2L349.0 140.4L350.0 140.7L351.0 141.0L352.0 141.3L353.0 141.5L354.0 141.8L355.0 142.1L356.0 142.4L357.0 142.7L358.0 142.9L359.0 143.2L360.0 143.5L361.0 143.8L362.0 144.1L363.0 144.4L364.0 144.7L365.0 145.0L366.0 145.2L367.0 145.5L368.0 145.8L369.0 146.1L370.0 146.4L371.0 146.7L372.0 147.0L373.0 147.3L374.0 147.6L375.0 147.9L376.0 148.2L377.0 148.6L378.0 148.9L379.0 149.2L380.0 149.5L381.0 149.8L382.0 150.1L383.0 150.4L384.0 150.7L385.0 151.1L386.0 151.4L387.0 151.7L388.0 152.0L389.0 152.3L390.0 152.7L391.0 153.0L392.0 153.3L393.0 153.7L394.0 154.0L395.0 154.3L396.0 154.6L397.0 155.0L398.0 155.3L399.0 155.6L400.0 156.0L401.0 156.3L402.0 156.7L403.0 157.0L404.0 157.3L405.0 157.7L406.0 158.0L407.0 158.4L408.0 158.7L409.0 159.1L410.0 159.4L411.0 159.7L412.0 160.1L413.0 160.4L414.0 160.8L415.0 161.2L416.0 161.5L417.0 161.9L418.0 162.2L419.0 162.6L420.0 162.9L421.0 163.3L422.0 163.6L423.0 164.0L424.0 164.4L425.0 164.7L426.0 165.1L427.0 165.5L428.0 165.8L429.0 166.2L430.0 166.6L431.0 167.0L432.0 167.4L433.0 167.9L434.0 168.3L435.0 168.7L436.0 169.1L437.0 169.6L438.0 170.0L439.0 170.4L440.0 170.8L441.0 171.3L442.0 171.7L443.0 172.1L444.0 172.5L445.0 173.0L446.0 173.4L447.0 173.8L448.0 174.2L449.0 174.7L450.0 175.1L451.0 175.5L452.0 175.9L453.0 176.3L454.0 176.7L455.0 177.2L456.0 177.6L457.0 178.0L458.0 178.4L459.0 178.8L460.0 179.2L461.0 179.6L462.0 180.0L463.0 180.4L464.0 180.8L465.0 181.2L466.0 181.7L467.0 182.1L468.0 182.5L469.0 182.9L470.0 183.3L471.0 183.7L472.0 184.1L473.0 184.5L474.0 184.9L475.0 185.4L476.0 185.8L477.0 186.2L478.0 186.6L479.0 187.0L480.0 187.4L481.0 187.9L482.0 188.3L483.0 188.7L484.0 189.1L485.0 189.6L486.0 190.0L487.0 190.4L488.0 190.9L489.0 191.3L490.0 191.7L491.0 192.2L492.0 192.6L493.0 193.0L494.0 193.5L495.0 193.9L496.0 194.4L497.0 194.8L498.0 195.2L499.0 195.7L500.0 196.1L501.0 196.6L502.0 197.0L503.0 197.5L504.0 197.9L505.0 198.4L506.0 198.8L507.0 199.3L508.0 199.7L509.0 200.2L510.0 200.6L511.0 201.1L512.0 201.6L513.0 202.0L514.0 202.5L515.0 202.9L516.0 203.4L517.0 203.9L518.0 204.3L519.0 204.8L520.0 205.3L521.0 205.7L522.0 206.2L523.0 206.7L524.0 207.1L525.0 207.6L526.0 208.1L527.0 208.6L528.0 209.0L529.0 209.5L530.0 210.0L531.0 210.5L532.0 211.0L533.0 211.4L534.0 211.9L535.0 212.4L536.0 212.9L537.0 213.4L538.0 213.9L539.0 214.4L540.0 214.9L541.0 215.4L542.0 215.9L543.0 216.4L544.0 216.9L545.0 217.4L546.0 217.9L547.0 218.4L548.0 218.9L549.0 219.4L550.0 219.9L551.0 220.4L552.0 220.9L553.0 221.3L554.0 221.8L555.0 222.2L555.0 224.0L554.0 223.6L553.0 223.1L552.0 222.7L551.0 222.2L550.0 221.7L549.0 221.3L548.0 220.8L547.0 220.4L546.0 219.9L545.0 219.5L544.0 219.0L543.0 218.6L542.0 218.1L541.0 217.7L540.0 217.2L539.0 216.8L538.0 216.3L537.0 215.9L536.0 215.4L535.0 215.0L534.0 214.5L533.0 214.1L532.0 213.7L531.0 213.2L530.0 212.8L529.0 212.3L528.0 211.9L527.0 211.5L526.0 211.0L525.0 210.6L524.0 210.1L523.0 209.7L522.0 209.3L521.0 208.8L520.0 208.4L519.0 208.0L518.0 207.6L517.0 207.1L516.0 206.7L515.0 206.3L514.0 205.8L513.0 205.4L512.0 205.0L511.0 204.6L510.0 204.1L509.0 203.7L508.0 203.3L507.0 202.9L506.0 202.4L505.0 202.0L504.0 201.6L503.0 201.2L502.0 200.7L501.0 200.3L500.0 199.9L499.0 199.5L498.0 199.1L497.0 198.7L496.0 198.2L495.0 197.8L494.0 197.4L493.0 197.0L492.0 196.6L491.0 196.2L490.0 195.7L489.0 195.3L488.0 194.9L487.0 194.5L486.0 194.1L485.0 193.7L484.0 193.3L483.0 192.9L482.0 192.5L481.0 192.0L480.0 191.6L479.0 191.2L478.0 190.8L477.0 190.4L476.0 190.0L475.0 189.6L474.0 189.2L473.0 188.8L472.0 188.4L471.0 188.0L470.0 187.6L469.0 187.2L468.0 186.8L467.0 186.4L466.0 186.0L465.0 185.6L464.0 185.2L463.0 184.8L462.0 184.4L461.0 184.0L460.0 183.6L459.0 183.2L458.0 182.8L457.0 182.4L456.0 182.0L455.0 181.7L454.0 181.3L453.0 180.9L452.0 180.5L451.0 180.1L450.0 179.7L449.0 179.3L448.0 178.9L447.0 178.6L446.0 178.2L445.0 177.8L444.0 177.4L443.0 177.0L442.0 176.6L441.0 176.3L440.0 175.9L439.0 175.5L438.0 175.1L437.0 174.8L436.0 174.4L435.0 174.0L434.0 173.6L433.0 173.3L432.0 172.9L431.0 172.5L430.0 172.2L429.0 171.8L428.0 171.4L427.0 171.1L426.0 170.7L425.0 170.3L424.0 170.0L423.0 169.6L422.0 169.2L421.0 168.9L420.0 168.5L419.0 168.2L418.0 167.8L417.0 167.5L416.0 167.1L415.0 166.8L414.0 166.4L413.0 166.0L412.0 165.7L411.0 165.3L410.0 165.0L409.0 164.7L408.0 164.3L407.0 164.0L406.0 163.6L405.0 163.3L404.0 162.9L403.0 162.6L402.0 162.3L401.0 161.9L400.0 161.6L399.0 161.2L398.0 160.9L397.0 160.6L396.0 160.2L395.0 159.9L394.0 159.6L393.0 159.3L392.0 158.9L391.0 158.6L390.0 158.3L389.0 157.9L388.0 157.6L387.0 157.3L386.0 157.0L385.0 156.7L384.0 156.3L383.0 156.0L382.0 155.7L381.0 155.4L380.0 155.1L379.0 154.8L378.0 154.5L377.0 154.2L376.0 153.8L375.0 153.5L374.0 153.2L373.0 152.9L372.0 152.6L371.0 152.3L370.0 152.0L369.0 151.7L368.0 151.4L367.0 151.1L366.0 150.8L365.0 150.6L364.0 150.3L363.0 150.0L362.0 149.7L361.0 149.4L360.0 149.1L359.0 148.8L358.0 148.5L357.0 148.3L356.0 148.0L355.0 147.7L354.0 147.4L353.0 147.1L352.0 146.9L351.0 146.6L350.0 146.3L349.0 146.0L348.0 145.8L347.0 145.5L346.0 145.2L345.0 145.0L344.0 144.7L343.0 144.4L342.0 144.2L341.0 143.9L340.0 143.7L339.0 143.4L338.0 143.2L337.0 142.9L336.0 142.7L335.0 142.4L334.0 142.1L333.0 141.9L332.0 141.6L331.0 141.4L330.0 141.2L329.0 140.9L328.0 140.7L327.0 140.4L326.0 140.2L325.0 140.0L324.0 139.7L323.0 139.5L322.0 139.3L321.0 139.0L320.0 138.8L319.0 138.6L318.0 138.4L317.0 138.1L316.0 137.9L315.0 137.7L314.0 137.5L313.0 137.3L312.0 137.0L311.0 136.8L310.0 136.6L309.0 136.4L308.0 136.2L307.0 135.9L306.0 135.7L305.0 135.4L304.0 135.2L303.0 134.9L302.0 134.7L301.0 134.4Z" fill="#2272b8" stroke="none"/>
<path d="M84 68H1202V94H111V459.5H1202V485H84Z" fill="url(#hatch)"/>
<path d="M84 104.5 L80 104.5 Q77 104.5 77 108 L77 131 Q77 134.5 80 134.5 L84 134.5 L84 130.5 L120 130.5 L120 107.5 L84 107.5Z" fill="#6f6f6f"/>
<rect x="119.8" y="97.8" width="170.6" height="43" fill="#ffffff" stroke="#6e6e6e" stroke-width="1.9"/>
<rect x="168" y="107.5" width="73" height="23.5" fill="#8e8e8e"/>
<g fill="#ffffff">
<rect x="258" y="160" width="106" height="42"/>
<rect x="426" y="235" width="106" height="40"/>
<rect x="592" y="315" width="104" height="41"/>
<rect x="762" y="380" width="102" height="40"/>
<rect x="927" y="380" width="108" height="40"/>
<rect x="1100" y="345" width="103" height="39"/>
</g>
<g font-weight="bold" font-size="28.5" fill="#1c1c1c">
<text x="92.5" y="37.8" textLength="140.5" lengthAdjust="spacingAndGlyphs">Reichweite</text>
<text x="245" y="37.8" textLength="43" lengthAdjust="spacingAndGlyphs">des</text>
<text x="298.7" y="37.8" textLength="104.7" lengthAdjust="spacingAndGlyphs">frischen</text>
<text x="413.7" y="37.8" textLength="140" lengthAdjust="spacingAndGlyphs">Luftstroms</text>
<text x="565.6" y="37.8" textLength="34.4" lengthAdjust="spacingAndGlyphs">für</text>
<text x="611.3" y="37.8" textLength="63.7" lengthAdjust="spacingAndGlyphs" stroke="#1f1f1f" stroke-width="0.25">CIVIC</text>
<text x="686.6" y="37.8" textLength="27.4" lengthAdjust="spacingAndGlyphs" stroke="#1f1f1f" stroke-width="0.6">EC</text>
<text x="725.2" y="37.8" textLength="30.4" lengthAdjust="spacingAndGlyphs" stroke="#1f1f1f" stroke-width="0.45">DB</text>
<text x="769.7" y="37.8" textLength="60" lengthAdjust="spacingAndGlyphs">1000</text>
</g>
<g font-size="26" fill="#2e2e2e" stroke="#2e2e2e" stroke-width="0.75">
<g transform="translate(264,191)"><text x="0" y="0" textLength="33.5" lengthAdjust="spacingAndGlyphs">3,9</text><text x="44.7" y="0" textLength="22" lengthAdjust="spacingAndGlyphs">m</text><path d="M72.2 2.6L79.8 -22.2" stroke-width="2.3" fill="none"/><text x="84" y="0" textLength="11" lengthAdjust="spacingAndGlyphs">s</text></g>
<g transform="translate(431.7,263.7)"><text x="0" y="0" textLength="33.5" lengthAdjust="spacingAndGlyphs">2,6</text><text x="44.7" y="0" textLength="22" lengthAdjust="spacingAndGlyphs">m</text><path d="M72.2 2.6L79.8 -22.2" stroke-width="2.3" fill="none"/><text x="84" y="0" textLength="11" lengthAdjust="spacingAndGlyphs">s</text></g>
<g transform="translate(597,343)"><text x="0" y="0" textLength="33.5" lengthAdjust="spacingAndGlyphs">2,2</text><text x="44.7" y="0" textLength="22" lengthAdjust="spacingAndGlyphs">m</text><path d="M72.2 2.6L79.8 -22.2" stroke-width="2.3" fill="none"/><text x="84" y="0" textLength="11" lengthAdjust="spacingAndGlyphs">s</text></g>
<g transform="translate(767,411.2)"><text x="0" y="0" textLength="32" lengthAdjust="spacingAndGlyphs">1,4</text><text x="43" y="0" textLength="22" lengthAdjust="spacingAndGlyphs">m</text><path d="M70.2 2.6L77.8 -22.2" stroke-width="2.3" fill="none"/><text x="82" y="0" textLength="11" lengthAdjust="spacingAndGlyphs">s</text></g>
<g transform="translate(932,411.2)"><text x="0" y="0" textLength="35" lengthAdjust="spacingAndGlyphs">0,8</text><text x="47" y="0" textLength="22" lengthAdjust="spacingAndGlyphs">m</text><path d="M74.7 2.6L82.3 -22.2" stroke-width="2.3" fill="none"/><text x="87" y="0" textLength="11" lengthAdjust="spacingAndGlyphs">s</text></g>
<g transform="translate(1104.5,373)"><text x="0" y="0" textLength="33" lengthAdjust="spacingAndGlyphs">0,3</text><text x="45" y="0" textLength="22" lengthAdjust="spacingAndGlyphs">m</text><path d="M72.2 2.6L79.8 -22.2" stroke-width="2.3" fill="none"/><text x="84" y="0" textLength="11" lengthAdjust="spacingAndGlyphs">s</text></g>
</g>
<g font-size="27" fill="#7a7a7a" stroke="#7a7a7a" stroke-width="0.3" text-anchor="middle">
<text x="291.5" y="526">0</text>
<text x="376" y="526">1</text>
<text x="459" y="526">2</text>
<text x="543" y="526">3</text>
<text x="627" y="526">4</text>
<text x="711" y="526">5</text>
<text x="795" y="526">6</text>
<text x="878" y="526">7</text>
<text x="963" y="526">8</text>
<text x="1046" y="526">9</text>
<text x="1130.5" y="526">10</text>
</g>
<g font-size="27" fill="#3e3e3e" stroke="#3e3e3e" stroke-width="0.9">
<text x="1158" y="526" textLength="7.5" lengthAdjust="spacingAndGlyphs">[</text>
<text x="1167.5" y="526" textLength="22.5" lengthAdjust="spacingAndGlyphs">m</text>
<text x="1193.5" y="526" textLength="7.5" lengthAdjust="spacingAndGlyphs">]</text>
</g>
</svg>
</body></html>
